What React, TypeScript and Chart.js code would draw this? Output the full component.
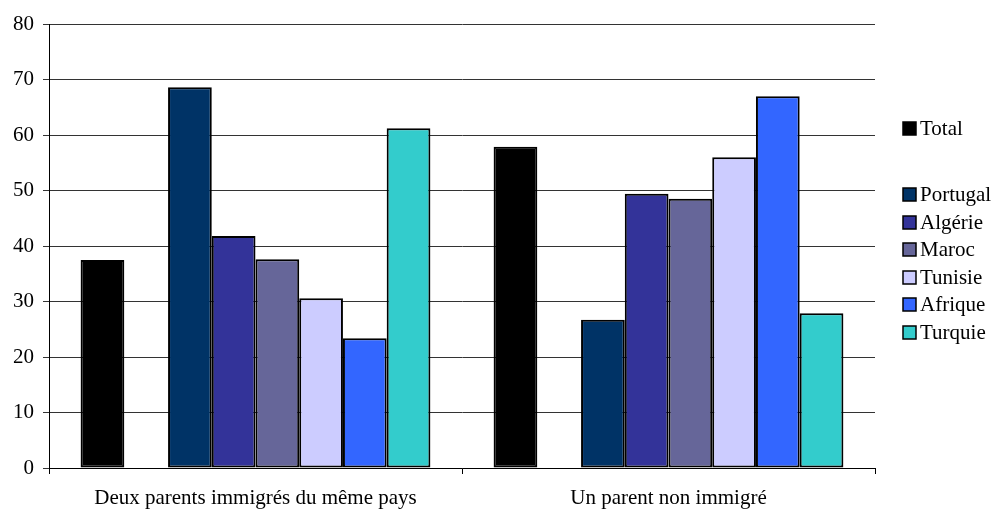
import React, { useEffect, useRef } from "react";
import { Chart, registerables } from "chart.js";

Chart.register(...registerables);

const categories = ["Deux parents immigrés du même pays", "Un parent non immigré"];
const seriesNames = ["Total", "", "Portugal", "Algérie", "Maroc", "Tunisie", "Afrique", "Turquie"];
const seriesColors = ["#000000", "rgba(0,0,0,0)", "#003366", "#333399", "#666699", "#CCCCFF", "#3366FF", "#33CCCC"];
const total = [37.5, 57.9];
const blank = [null, null];
const portugal = [68.6, 26.7];
const algerie = [41.8, 49.4];
const maroc = [37.6, 48.5];
const tunisie = [30.6, 56.0];
const afrique = [23.4, 67.0];
const turquie = [61.2, 27.9];
const seriesValues = [total, blank, portugal, algerie, maroc, tunisie, afrique, turquie];
const yTicks = [0, 10, 20, 30, 40, 50, 60, 70, 80];

const FONT = '"Liberation Serif", "Times New Roman", serif';

const legendPlugin = {
  id: "customLegend",
  afterDraw(chart: any) {
    const ctx = chart.ctx;
    ctx.save();
    ctx.font = '21px "Liberation Serif", serif';
    ctx.textBaseline = "middle";
    ctx.textAlign = "left";
    const ys = [128, 161, 194, 222, 249, 277, 304, 332];
    chart.data.datasets.forEach((ds: any, i: number) => {
      if (!ds.label) return;
      const y = ys[i];
      ctx.fillStyle = ds.backgroundColor;
      ctx.fillRect(903, y - 6, 13, 13);
      ctx.strokeStyle = "#000";
      ctx.lineWidth = 1.5;
      ctx.strokeRect(903, y - 6, 13, 13);
      ctx.fillStyle = "#000";
      ctx.font = '21px "Liberation Serif", serif';
      ctx.fillText(ds.label, 920, y + 1);
    });
    ctx.restore();
  },
};

export default function App() {
  const ref = useRef<HTMLCanvasElement>(null);
  useEffect(() => {
    const chart = new Chart(ref.current!, {
      type: "bar",
      data: {
        labels: categories,
        datasets: seriesNames.map((name, i) => ({
          label: name,
          data: seriesValues[i] as any,
          backgroundColor: seriesColors[i],
          borderColor: "#000",
          borderWidth: 2,
          borderSkipped: false,
          categoryPercentage: 0.847,
          barPercentage: 1,
        })),
      },
      options: {
        responsive: false,
        animation: false,
        devicePixelRatio: 1,
        layout: { padding: { left: 0, top: 24, right: 118, bottom: 0 } },
        plugins: { legend: { display: false }, tooltip: { enabled: false } },
        scales: {
          x: {
            grid: { drawOnChartArea: false, drawTicks: true, tickLength: 6, offset: true, color: "#000" },
            border: { color: "#000", width: 1 },
            ticks: { color: "#000", font: { family: FONT, size: 21 }, padding: 12, maxRotation: 0 },
            afterFit: (s: any) => { s.height = 43; },
          },
          y: {
            min: 0,
            max: 80,
            afterBuildTicks: (s: any) => { s.ticks = yTicks.map((v) => ({ value: v })); },
            grid: { color: "#333", tickLength: 6, drawTicks: true },
            border: { color: "#000", width: 1 },
            ticks: { color: "#000", font: { family: FONT, size: 21 }, padding: 9 },
            afterFit: (s: any) => { s.width = 49; },
          },
        },
      },
      plugins: [legendPlugin],
    });
    return () => chart.destroy();
  }, []);
  return (
    <div style={{ position: "fixed", left: 0, top: 0, width: 993, height: 511, background: "#fff" }}>
      <canvas ref={ref} width={993} height={511} style={{ width: 993, height: 511, display: "block" }} />
    </div>
  );
}
